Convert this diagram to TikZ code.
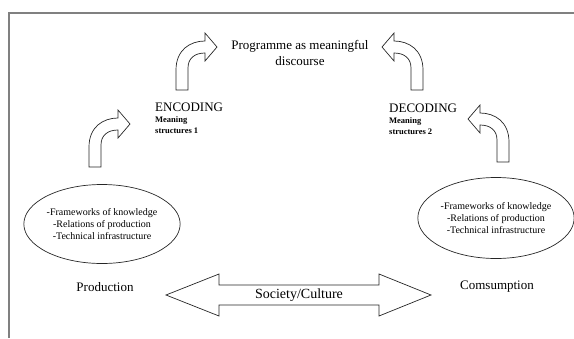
\documentclass[tikz,border=0pt]{standalone}
\usepackage{fontspec}
\setmainfont{Liberation Serif}
\usetikzlibrary{shapes.geometric}
\tikzset{
  bent/.style={draw=black!85, line width=0.7pt, fill=white, line join=miter},
  bentarrow/.pic={
    \draw[bent] (0,0) -- (0,-20) .. controls (0,-40) and (14,-49) .. (29,-49)
      -- (29,-57) -- (41,-43) -- (29,-29) -- (29,-37)
      .. controls (19,-37) and (12,-32) .. (12,-22) -- (12,0) -- cycle;
  },
  frameline/.style={draw=black!50, line width=1.5pt},
  ell/.style={ellipse, draw=black!85, line width=0.7pt, inner sep=0pt,
    minimum width=136pt, minimum height=79pt, align=center,
    font=\fontsize{10}{12}\selectfont},
  lbl/.style={font=\fontsize{13}{16}\selectfont, inner sep=0pt, align=center},
  sub/.style={font=\bfseries\fontsize{8.5}{11}\selectfont, inner sep=0pt, align=left},
}
\begin{document}
\begin{tikzpicture}[x=1pt,y=-1pt]
\useasboundingbox (0,0) rectangle (574,338);
% frame (left and top edges visible)
\draw[frameline] (9,338) -- (9,13) -- (574,13);

% title
\node[lbl] (prog) at (300,53) {Programme as meaningful\\discourse};

% encoding / decoding
\node[lbl, anchor=west] (enc) at (155,107) {ENCODING};
\node[sub, anchor=north west] (encs) at (155,116) {Meaning\\structures 1};
\node[lbl, anchor=west] (dec) at (389,108) {DECODING};
\node[sub, anchor=north west] (decs) at (389,117) {Meaning\\structures 2};

% ellipses
\node[ell] (prodell) at (102,224) {-Frameworks of knowledge\\-Relations of production\\-Technical infrastructure};
\node[ell, minimum width=138pt, minimum height=81pt] (consell) at (496,218) {-Frameworks of knowledge\\-Relations of production\\-Technical infrastructure};

\node[lbl] (prod) at (105,287) {Production};
\node[lbl] (cons) at (497,287) {Comsumption};

% bent arrows
\path (89,167) pic {bentarrow};
\path (176,90) pic {bentarrow};
\path (423,90) pic[xscale=-1] {bentarrow};
\path (509,162) pic[xscale=-1] {bentarrow};

% society/culture double arrow
\draw[bent] (166,295) -- (219,274) -- (219,285) -- (379,285) -- (379,274)
  -- (431,295) -- (379,316) -- (379,305) -- (219,305) -- (219,316) -- cycle;
\node[lbl, font=\fontsize{14}{16}\selectfont] (soc) at (299,295) {Society/Culture};
\end{tikzpicture}
\end{document}
